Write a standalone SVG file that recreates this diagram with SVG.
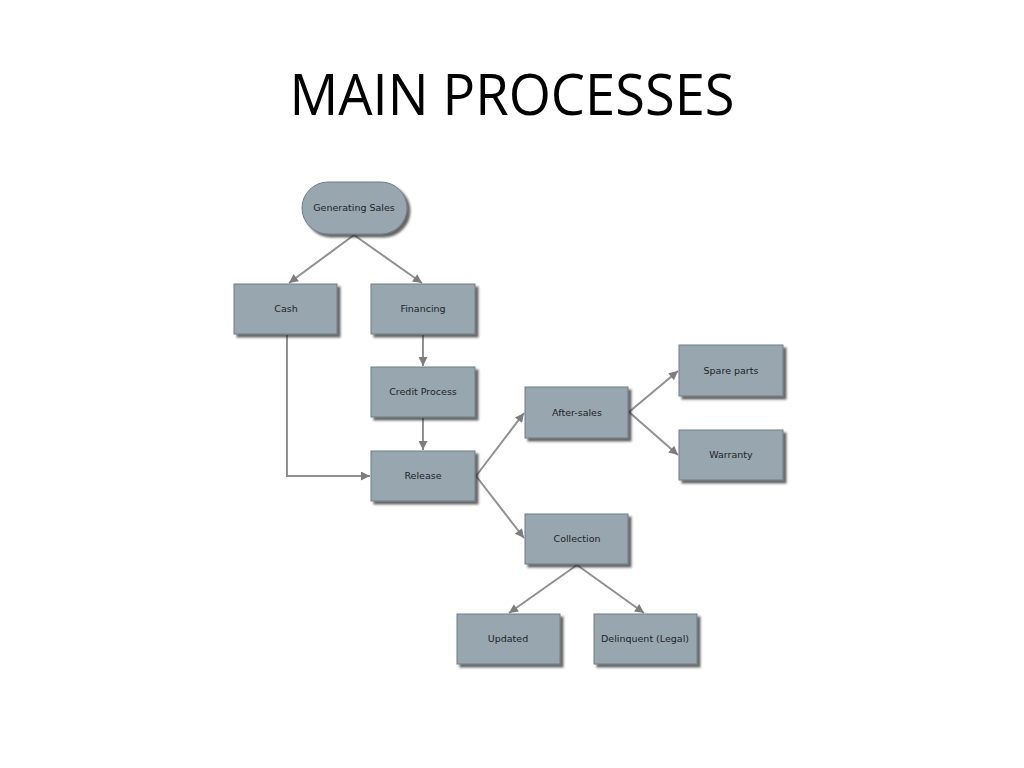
<svg xmlns="http://www.w3.org/2000/svg" width="1024" height="768" viewBox="0 0 1024 768">
<style>
.box{fill:#97a6af;stroke:#6f7d86;stroke-width:1}
.lbl{font-family:"DejaVu Sans",Verdana,sans-serif;font-size:9.5px;fill:#1e2328;text-anchor:middle}
.edge{fill:none;stroke:#909090;stroke-width:2}
.title{font-family:"Open Sans","Liberation Sans",sans-serif;font-size:56px;fill:#000;text-anchor:middle}
</style>
<defs>
<marker id="arr" viewBox="0 0 10 10" refX="10" refY="5" markerWidth="11" markerHeight="9" markerUnits="userSpaceOnUse" orient="auto">
<path d="M0,0 L10,5 L0,10 z" fill="#7d7d7d"/>
</marker>
<filter id="sh" x="-10%" y="-10%" width="130%" height="140%">
<feDropShadow dx="3" dy="3" stdDeviation="1.2" flood-color="#222" flood-opacity="0.7"/>
</filter>
</defs>
<rect width="1024" height="768" fill="#fff"/>
<text class="title" x="512" y="115" textLength="445" lengthAdjust="spacingAndGlyphs">MAIN PROCESSES</text>
<g id="connectors">
<path class="edge" d="M354,235 L289,283" marker-end="url(#arr)"/>
<path class="edge" d="M354,235 L422,283" marker-end="url(#arr)"/>
<path class="edge" d="M423,335 L423,366" marker-end="url(#arr)"/>
<path class="edge" d="M423,418 L423,450" marker-end="url(#arr)"/>
<path class="edge" d="M287,335 L287,476 L370,476" marker-end="url(#arr)"/>
<path class="edge" d="M476,476 L524,413" marker-end="url(#arr)"/>
<path class="edge" d="M476,476 L524,538" marker-end="url(#arr)"/>
<path class="edge" d="M629,412 L678,371" marker-end="url(#arr)"/>
<path class="edge" d="M629,412 L678,455" marker-end="url(#arr)"/>
<path class="edge" d="M577,565 L509,613" marker-end="url(#arr)"/>
<path class="edge" d="M577,565 L644,613" marker-end="url(#arr)"/>
</g>
<g id="generating-sales"><rect class="box" filter="url(#sh)" x="302" y="182" width="105" height="52" rx="26"/><text class="lbl" x="354" y="211">Generating Sales</text></g>
<g id="cash"><rect class="box" filter="url(#sh)" x="234" y="284" width="103" height="50"/><text class="lbl" x="286" y="312">Cash</text></g>
<g id="financing"><rect class="box" filter="url(#sh)" x="371" y="284" width="104" height="50"/><text class="lbl" x="423" y="312">Financing</text></g>
<g id="credit-process"><rect class="box" filter="url(#sh)" x="371" y="367" width="104" height="50"/><text class="lbl" x="423" y="395">Credit Process</text></g>
<g id="release"><rect class="box" filter="url(#sh)" x="371" y="451" width="104" height="50"/><text class="lbl" x="423" y="479">Release</text></g>
<g id="after-sales"><rect class="box" filter="url(#sh)" x="525" y="387" width="103" height="51"/><text class="lbl" x="577" y="416">After-sales</text></g>
<g id="spare-parts"><rect class="box" filter="url(#sh)" x="679" y="345" width="104" height="51"/><text class="lbl" x="731" y="374">Spare parts</text></g>
<g id="warranty"><rect class="box" filter="url(#sh)" x="679" y="430" width="104" height="50"/><text class="lbl" x="731" y="458">Warranty</text></g>
<g id="collection"><rect class="box" filter="url(#sh)" x="525" y="514" width="103" height="50"/><text class="lbl" x="577" y="542">Collection</text></g>
<g id="updated"><rect class="box" filter="url(#sh)" x="457" y="614" width="103" height="50"/><text class="lbl" x="508" y="642">Updated</text></g>
<g id="delinquent"><rect class="box" filter="url(#sh)" x="594" y="614" width="103" height="50"/><text class="lbl" x="645" y="642">Delinquent (Legal)</text></g>
</svg>
